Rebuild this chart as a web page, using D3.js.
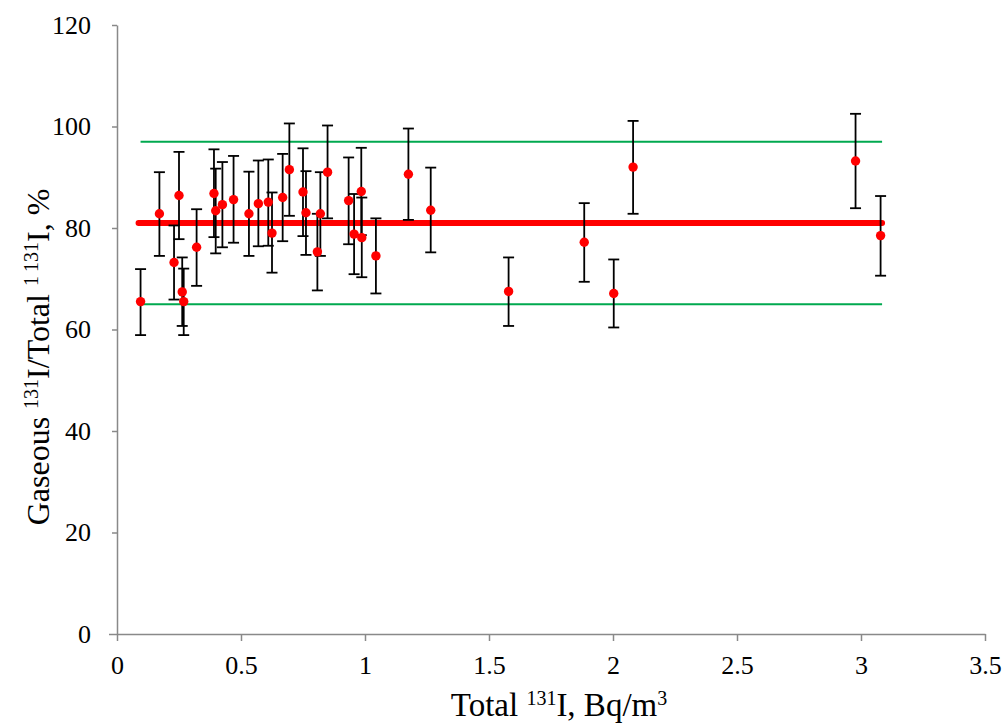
<!DOCTYPE html>
<html>
<head>
<meta charset="utf-8">
<script src="https://cdn.jsdelivr.net/npm/d3@7"></script>
<style>
  body { margin: 0; background: #fff; }
  text { font-family: "Liberation Serif", "Times New Roman", serif; fill: #000; }
  .axis path, .axis line { stroke: #898989; stroke-width: 1.5; }
</style>
</head>
<body>
<svg id="chart" width="1002" height="723"></svg>
<script>
// measured samples: total 131I (Bq/m3), gaseous fraction (%), error bar low/high
let totalI = [0.095, 0.171, 0.25, 0.23, 0.263, 0.269, 0.321, 0.391, 0.398, 0.425,
              0.47, 0.532, 0.57, 0.61, 0.625, 0.668, 0.695, 0.75, 0.762, 0.82,
              0.808, 0.849, 0.934, 0.956, 0.985, 0.987, 1.044, 1.175, 1.265, 1.579,
              1.884, 2.003, 2.081, 2.978, 3.079]
let gasFrac = [65.5, 82.8, 86.4, 73.2, 67.4, 65.5, 76.2, 86.8, 83.4, 84.6,
               85.6, 82.8, 84.8, 85.1, 79.0, 86.0, 91.5, 87.1, 83.0, 82.8,
               75.3, 91.0, 85.4, 78.8, 87.2, 78.1, 74.5, 90.6, 83.5, 67.5,
               77.2, 67.1, 92.0, 93.2, 78.5]
let errLow = [58.9, 74.5, 77.8, 65.9, 60.7, 58.9, 68.6, 78.2, 75.0, 76.2,
              77.1, 74.5, 76.4, 76.5, 71.2, 77.4, 82.4, 78.4, 74.7, 74.5,
              67.7, 81.9, 76.8, 70.9, 78.6, 70.3, 67.1, 81.6, 75.2, 60.7,
              69.4, 60.4, 82.8, 83.9, 70.6]
let errHigh = [71.9, 91.0, 95.0, 80.5, 74.2, 72.0, 83.7, 95.5, 91.7, 93.0,
               94.2, 91.1, 93.3, 93.5, 87.0, 94.6, 100.6, 95.7, 91.2, 91.0,
               82.8, 100.2, 93.9, 86.7, 95.8, 86.0, 81.9, 99.6, 91.9, 74.2,
               84.9, 73.8, 101.1, 102.5, 86.3]

// mean and band lines
let lineX = [0.095, 3.085]
let meanLine = 81
let bandLines = [97, 65]

let xTicks = [0, 0.5, 1, 1.5, 2, 2.5, 3, 3.5]
let yTicks = [0, 20, 40, 60, 80, 100, 120]

let data = totalI.map(function (d, i) {
    return {x: d, y: gasFrac[i], lo: errLow[i], hi: errHigh[i]}
})

let svg = d3.select("#chart")
let mLeft = 117, mRight = 985, mTop = 25, mBottom = 634

let xScale = d3.scaleLinear().domain([0, 3.5]).range([mLeft, mRight])
let yScale = d3.scaleLinear().domain([0, 120]).range([mBottom, mTop])

// Axes
let x_axis = d3.axisBottom(xScale).tickValues(xTicks).tickSize(7).tickSizeOuter(0)
    .tickFormat(function (d) { return d })
let y_axis = d3.axisLeft(yScale).tickValues(yTicks).tickSize(8).tickSizeOuter(0)

let gx = svg.append("g").attr("class", "axis")
    .attr("transform", `translate(0,${mBottom})`)
    .call(x_axis)
gx.selectAll("text").attr("font-size", 26).attr("y", 40).attr("dy", 0)

let gy = svg.append("g").attr("class", "axis")
    .attr("transform", `translate(${mLeft},0)`)
    .call(y_axis)
gy.selectAll("text").attr("font-size", 26).attr("x", -26)
gy.selectAll(".tick line").filter(function (d) { return d !== 0 }).attr("x2", -5)

// band lines (green)
svg.selectAll(".band")
    .data(bandLines)
    .enter()
    .append("line")
    .attr("class", "band")
    .attr("x1", xScale(lineX[0])).attr("x2", xScale(lineX[1]))
    .attr("y1", function (d) { return yScale(d) })
    .attr("y2", function (d) { return yScale(d) })
    .attr("stroke", "#00a94f")
    .attr("stroke-width", 2)

// mean line (red)
svg.append("line")
    .attr("x1", xScale(lineX[0]) - 2).attr("x2", xScale(lineX[1]))
    .attr("y1", yScale(meanLine)).attr("y2", yScale(meanLine))
    .attr("stroke", "#ff0000")
    .attr("stroke-width", 6)
    .attr("stroke-linecap", "round")

// error bars
let bars = svg.selectAll(".err")
    .data(data)
    .enter()
    .append("g")
    .attr("class", "err")
    .attr("stroke", "#000")
    .attr("stroke-width", 1.8)
bars.append("line")
    .attr("x1", function (d) { return xScale(d.x) })
    .attr("x2", function (d) { return xScale(d.x) })
    .attr("y1", function (d) { return yScale(d.lo) })
    .attr("y2", function (d) { return yScale(d.hi) })
bars.append("line")
    .attr("x1", function (d) { return xScale(d.x) - 5.5 })
    .attr("x2", function (d) { return xScale(d.x) + 5.5 })
    .attr("y1", function (d) { return yScale(d.lo) })
    .attr("y2", function (d) { return yScale(d.lo) })
bars.append("line")
    .attr("x1", function (d) { return xScale(d.x) - 5.5 })
    .attr("x2", function (d) { return xScale(d.x) + 5.5 })
    .attr("y1", function (d) { return yScale(d.hi) })
    .attr("y2", function (d) { return yScale(d.hi) })

// markers
svg.selectAll(".markers")
    .data(data)
    .enter()
    .append("circle")
    .attr("class", "markers")
    .attr("cx", function (d) { return xScale(d.x) })
    .attr("cy", function (d) { return yScale(d.y) })
    .attr("r", 4.7)
    .attr("fill", "#ff0000")

// Labels
let xl = svg.append("text")
    .attr("x", 559)
    .attr("y", 716)
    .attr("text-anchor", "middle")
    .attr("font-size", 33)
xl.append("tspan").text("Total ")
xl.append("tspan").attr("font-size", 20).attr("dy", -11).text("131")
xl.append("tspan").attr("dy", 11).text("I, Bq/m")
xl.append("tspan").attr("font-size", 20).attr("dy", -11).text("3")

let yl = svg.append("text")
    .attr("transform", `translate(${49},${357}) rotate(270)`)
    .attr("text-anchor", "middle")
    .attr("font-size", 32)
yl.append("tspan").text("Gaseous ")
yl.append("tspan").attr("font-size", 20).attr("dy", -11).text("131")
yl.append("tspan").attr("dy", 11).text("I/Total ")
yl.append("tspan").attr("font-size", 20).attr("dy", -11).text("1\u2009131")
yl.append("tspan").attr("dy", 11).text("I, %")
</script>
</body>
</html>
